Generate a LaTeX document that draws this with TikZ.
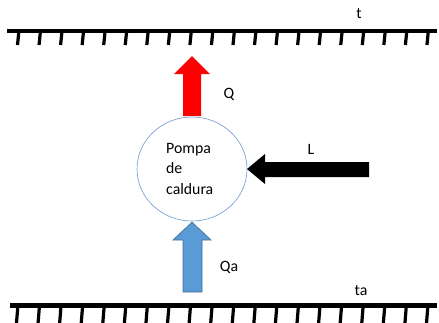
\documentclass[tikz,border=0pt]{standalone}
\usepackage{fontspec}
\setmainfont{Carlito}
\usetikzlibrary{shapes.geometric}
\begin{document}
\begin{tikzpicture}[x=1pt,y=-1pt,
  wall/.style={line width=4.5pt},
  tick/.style={line width=3.2pt},
  lbl/.style={font=\fontsize{15.8}{20.5}\selectfont, inner sep=0pt}]
\useasboundingbox (0,0) rectangle (439,322);
% walls
\coordinate (tl) at (7,31); \coordinate (tr) at (437,31);
\coordinate (bl) at (10,305.5); \coordinate (br) at (437,305.5);
\draw[wall] (tl) -- (tr);
\draw[wall] (bl) -- (br);
\foreach \i in {0,...,19}{
  \draw[tick] ({18+21.55*\i+0.7},33) -- ({18+21.55*\i-0.5},45);
  \draw[tick] ({17+21.58*\i+0.7},308) -- ({17+21.58*\i-0.5},323);
}
% labels
\node[lbl] (t) at (359,14) {t};
\node[lbl] (ta) at (361,291) {ta};
% pump
\node[draw={rgb,255:red,111;green,150;blue,214}, line width=0.6pt, fill=white, ellipse, minimum width=110pt, minimum height=104pt, inner sep=0pt] (pump) at (192,169) {};
\node[lbl, align=left, anchor=north west] (ptxt) at (166,143) {Pompa\\de\\caldura};
% red arrow Q
\fill[red] (183,116) -- (183,74) -- (174,74) -- (192,56) -- (210,74) -- (201,74) -- (201,116) -- cycle;
\node[lbl] (Q) at (229,94) {Q};
% blue arrow Qa
\filldraw[fill={rgb,255:red,91;green,155;blue,213}, draw={rgb,255:red,65;green,113;blue,156}, line width=0.6pt]
  (183,292) -- (183,240) -- (173,240) -- (192,222) -- (211,240) -- (202,240) -- (202,292) -- cycle;
\node[lbl] (Qa) at (229,267) {Qa};
% black arrow L
\fill[black] (369,162) -- (265,162) -- (265,154) -- (247,169) -- (265,184) -- (265,177) -- (369,177) -- cycle;
\node[lbl] (L) at (311,149) {L};
\end{tikzpicture}
\end{document}
